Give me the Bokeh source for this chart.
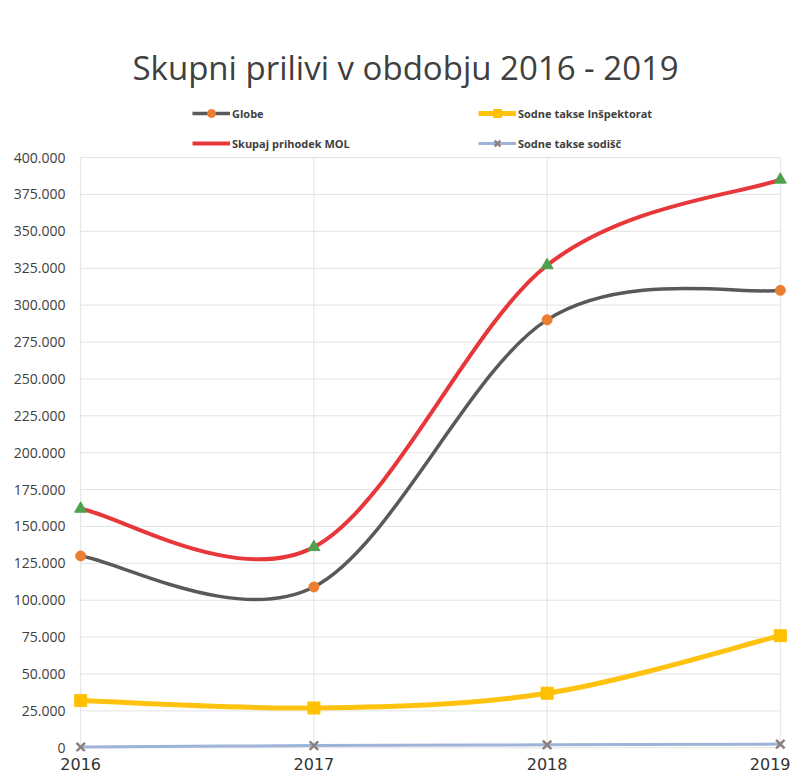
from bokeh.plotting import figure
from bokeh.models import Range1d, FixedTicker, Legend, LegendItem, ColumnDataSource
from bokeh.embed import file_html
from bokeh.resources import INLINE

# ---- data ----
years = [2016, 2017, 2018, 2019]
globe = [130000, 109000, 290000, 310000]
skupaj = [162000, 136000, 327000, 385000]
inspektorat = [32000, 27000, 37000, 76000]
sodisc = [500, 1500, 2000, 2500]

series_names = ["Globe", "Skupaj prihodek MOL", "Sodne takse Inšpektorat", "Sodne takse sodišč"]
y_ticks = list(range(0, 400001, 25000))
y_tick_labels = {t: f"{t:,}".replace(",", ".") for t in y_ticks}
x_ticks = years
x_tick_labels = {y: str(y) for y in years}

TEXT = "#404040"
GRID = "#e3e3e3"

p = figure(frame_width=716, frame_height=653, output_backend="svg", toolbar_location=None,
           x_range=Range1d(2016 - 0.035, 2019 + 0.035),
           y_range=Range1d(-2500, 440000),
           min_border_left=72, min_border_right=2, min_border_top=98, min_border_bottom=0)

p.title.text = "Skupni prilivi v obdobju 2016 - 2019"
p.title.align = "left"
p.title.offset = 60
p.title.text_font = "Open Sans"
p.title.text_font_size = "33px"
p.title.text_font_style = "normal"
p.title.text_color = TEXT
p.title.standoff = 18

p.outline_line_color = None
p.background_fill_color = "white"

p.xaxis.ticker = FixedTicker(ticks=x_ticks)
p.xaxis.major_label_overrides = x_tick_labels
p.yaxis.ticker = FixedTicker(ticks=y_ticks)
p.yaxis.major_label_overrides = y_tick_labels
for ax in (p.xaxis, p.yaxis):
    ax.axis_line_color = None
    ax.major_tick_line_color = None
    ax.minor_tick_line_color = None
    ax.major_tick_out = 0
    ax.major_tick_in = 0
    ax.minor_tick_out = 0
    ax.minor_tick_in = 0
    ax.major_label_text_color = TEXT
p.yaxis.major_label_text_font = "Open Sans"
p.yaxis.major_label_text_font_size = "14px"
p.yaxis.major_label_standoff = 7
p.xaxis.major_label_text_font = "DejaVu Sans"
p.xaxis.major_label_text_font_size = "16px"
p.xaxis.major_label_text_color = "#333333"
p.xaxis.major_label_standoff = 6

# grid drawn only over the data area (0 .. 400.000, 2016 .. 2019)
p.xgrid.visible = False
p.ygrid.visible = False
p.segment(x0=x_ticks, y0=[y_ticks[0]] * len(x_ticks), x1=x_ticks, y1=[y_ticks[-1]] * len(x_ticks),
          line_color=GRID, line_width=1)
p.segment(x0=[x_ticks[0]] * len(y_ticks), y0=y_ticks, x1=[x_ticks[-1]] * len(y_ticks), y1=y_ticks,
          line_color=GRID, line_width=1)


def smooth(xs, ys):
    n = len(xs)
    d = dict(x0=[], y0=[], x1=[], y1=[], cx0=[], cy0=[], cx1=[], cy1=[])
    for i in range(n - 1):
        a = max(i - 1, 0)
        b = min(i + 2, n - 1)
        d["x0"].append(xs[i]); d["y0"].append(ys[i])
        d["x1"].append(xs[i + 1]); d["y1"].append(ys[i + 1])
        d["cx0"].append(xs[i] + (xs[i + 1] - xs[a]) / 6)
        d["cy0"].append(ys[i] + (ys[i + 1] - ys[a]) / 6)
        d["cx1"].append(xs[i + 1] - (xs[b] - xs[i]) / 6)
        d["cy1"].append(ys[i + 1] - (ys[b] - ys[i]) / 6)
    return ColumnDataSource(d)


styles = [
    (globe, "#595959", 3.5, "circle", "#ED7D31", 10),
    (skupaj, "#E8373A", 4, "triangle", "#4EA24E", 12),
    (inspektorat, "#FFC20E", 5, "square", "#FFC000", 12),
    (sodisc, "#9DB4D8", 3, "x", "#8C7F80", 12),
]

items = []
for name, (vals, lc, lw, mk, mc, ms) in zip(series_names, styles):
    p.bezier(x0="x0", y0="y0", x1="x1", y1="y1", cx0="cx0", cy0="cy0", cx1="cx1", cy1="cy1",
             source=smooth(years, vals), line_color=lc, line_width=lw, line_cap="round")
    lr = p.line(years, vals, line_color=lc, line_width=lw, visible=False)
    sr = p.scatter(years, vals, marker=mk, size=ms, fill_color=mc, line_color=mc,
                   line_width=2.5 if mk == "x" else 1)
    items.append((name, lr, sr))

legend_order = [0, 2, 1, 3]
legend_items = []
for k in legend_order:
    name, lr, sr = items[k]
    rs = [lr] if k == 1 else [lr, sr]
    legend_items.append(LegendItem(label=name, renderers=rs))

legend = Legend(items=legend_items, ncols=2, orientation="horizontal",
                location=(120, 598), margin=0, padding=0, spacing=10,
                glyph_width=38, glyph_height=20, label_standoff=2, label_width=236,
                label_text_font="Open Sans", label_text_font_size="11px",
                label_text_font_style="bold", label_text_color=TEXT,
                border_line_color=None, background_fill_alpha=0)
p.add_layout(legend, "center")

open("out.html", "w").write(file_html(p, INLINE))
